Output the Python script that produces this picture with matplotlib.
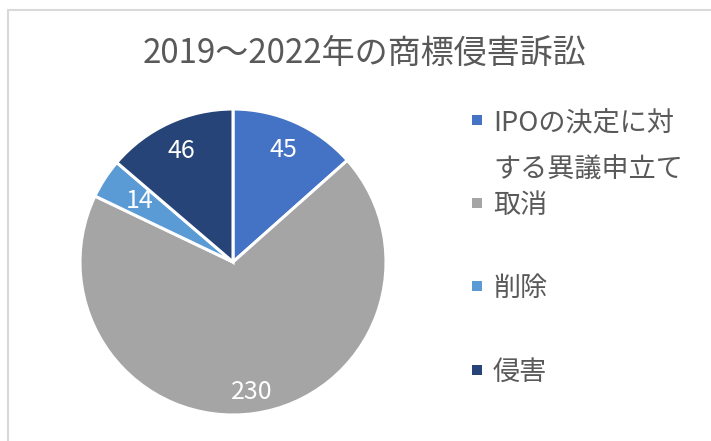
import matplotlib
matplotlib.use("Agg")
import matplotlib.pyplot as plt
from matplotlib.patches import Rectangle
import numpy as np

plt.rcParams['font.family'] = ['Noto Sans CJK JP', 'DejaVu Sans']

title = "2019～2022年の商標侵害訴訟"
categories = ["IPOの決定に対\nする異議申立て", "取消", "削除", "侵害"]
values = [45, 230, 14, 46]
colors = ["#4472C4", "#A5A5A5", "#5B9BD5", "#264478"]

W, H = 711, 441
fig = plt.figure(figsize=(W / 100, H / 100), dpi=100)

# chart border
fig.patches.append(Rectangle((8 / W, -0.1), 1.2, 1 - 10 / H + 0.1,
                             transform=fig.transFigure, fill=False,
                             edgecolor="#D9D9D9", linewidth=1.5))

cx, cy, r = 233, 262, 153
ax = fig.add_axes([(cx - r) / W, (H - cy - r) / H, 2 * r / W, 2 * r / H])
wedges, _ = ax.pie(values, colors=colors, startangle=90, counterclock=False,
                   radius=1, wedgeprops=dict(edgecolor="white", linewidth=2.2))
ax.set_xlim(-1, 1)
ax.set_ylim(-1, 1)
ax.set_aspect("equal")
ax.axis("off")

label_r = [0.80, 0.86, 0.73, 0.80]
for w, v, lr in zip(wedges, values, label_r):
    ang = np.deg2rad((w.theta1 + w.theta2) / 2)
    ax.text(lr * np.cos(ang), lr * np.sin(ang), str(v), ha="center", va="center",
            color="white", fontsize=18)

fig.text(364 / W, 1 - 53 / H, title, ha="center", va="center",
         fontsize=23.8, color="#595959")

# legend
leg_y = [120, 203, 286, 370]
for cat, col, y in zip(categories, colors, leg_y):
    fig.patches.append(Rectangle((472 / W, 1 - (y + 5) / H), 10 / W, 10 / H,
                                 transform=fig.transFigure, facecolor=col,
                                 edgecolor="none"))
    fig.text(493 / W, 1 - (y - 11) / H, cat, ha="left", va="top",
             fontsize=19.5, color="#595959", linespacing=1.98)

fig.savefig("out.png", dpi=100)
